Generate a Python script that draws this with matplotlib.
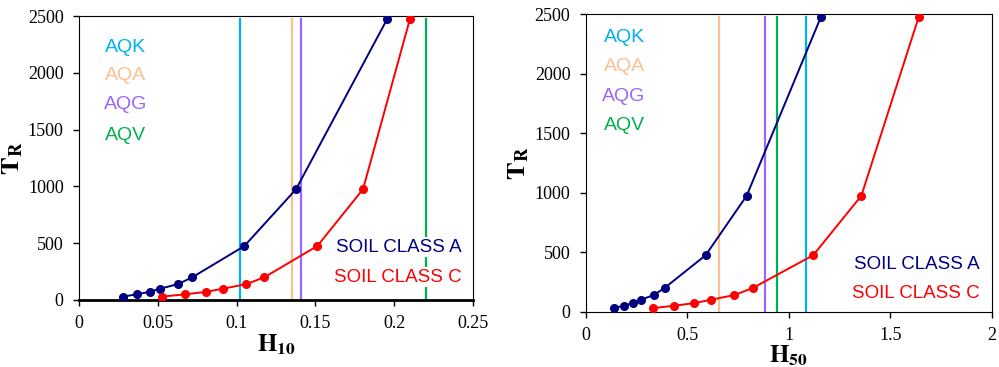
import matplotlib.pyplot as plt
import numpy as np

# return periods T_R (years)
tr = [30, 50, 72, 100, 140, 200, 475, 975, 2475]

# hazard values
h10_a = [0.028, 0.0366, 0.045, 0.0516, 0.0628, 0.0719, 0.1049, 0.1377, 0.1956]
h10_c = [0.0527, 0.0675, 0.0808, 0.0916, 0.1062, 0.1176, 0.1512, 0.1802, 0.210]
h50_a = [0.139, 0.187, 0.231, 0.271, 0.335, 0.389, 0.591, 0.793, 1.158]
h50_c = [0.332, 0.435, 0.535, 0.616, 0.732, 0.824, 1.121, 1.358, 1.640]

# reference levels (AQK, AQA, AQG, AQV)
ref_names = ['AQK', 'AQA', 'AQG', 'AQV']
ref_colors = ['#00B0F0', '#FAC090', '#9966FF', '#00B050']
ref_h10 = [0.102, 0.135, 0.141, 0.220]
ref_h50 = [1.086, 0.657, 0.883, 0.942]

navy = '#000080'
red = '#FF0000'

plt.rcParams['mathtext.fontset'] = 'stix'
serif = 'Liberation Serif'
sans = 'Liberation Sans'


def draw_panel(ax, ha, hc, refs, xlim, xticks, xlabel, name_xy, soil_xy):
    for x, c in zip(refs, ref_colors):
        ax.plot([x, x], [0, 2475], color=c, linewidth=1.6, zorder=1)
    ax.plot(ha, tr, '-o', color=navy, linewidth=1.4, markersize=5.5, zorder=3)
    ax.plot(hc, tr, '-o', color=red, linewidth=1.4, markersize=5.5, zorder=3)

    ax.set_xlim(*xlim)
    ax.set_ylim(0, 2500)
    ax.set_xticks(xticks)
    ax.set_yticks(np.arange(0, 2501, 500))
    ax.set_xticklabels([('%g' % t) for t in xticks])
    for lab in ax.get_xticklabels() + ax.get_yticklabels():
        lab.set_fontfamily(serif)
        lab.set_fontsize(13)
    ax.tick_params(direction='out', length=4, width=1, pad=7)

    ax.set_xlabel(xlabel, fontsize=18, labelpad=0)
    ax.set_ylabel(r'$\mathbf{T}_\mathbf{R}$', fontsize=19, labelpad=2)

    # reference labels
    x0, ys = name_xy
    for name, c, y in zip(ref_names, ref_colors, ys):
        ax.text(x0, y, name, color=c, fontsize=14, family=sans,
                ha='center', va='center')

    xs, ya, yc = soil_xy
    box = dict(facecolor='white', edgecolor='none', pad=1)
    ax.text(xs, ya, 'SOIL CLASS A', color=navy, fontsize=13.5, family=sans,
            ha='right', va='center', bbox=box, zorder=2)
    ax.text(xs, yc, 'SOIL CLASS C', color=red, fontsize=13.5, family=sans,
            ha='right', va='center', bbox=box, zorder=2)


fig = plt.figure(figsize=(9.99, 3.67), dpi=100)

ax1 = fig.add_axes([0.0791, 0.1826, 0.3944, 0.7738])
draw_panel(ax1, h10_a, h10_c, ref_h10, (0, 0.25),
           [0, 0.05, 0.1, 0.15, 0.2, 0.25], r'$\mathbf{H}_\mathbf{10}$',
           (0.0298, [2221, 1980, 1725, 1452]), (0.2428, 464, 200))
ax1.spines['bottom'].set_linewidth(2)

ax2 = fig.add_axes([0.5863, 0.1507, 0.4064, 0.8104])
draw_panel(ax2, h50_a, h50_c, ref_h50, (0, 2),
           [0, 0.5, 1, 1.5, 2], r'$\mathbf{H}_\mathbf{50}$',
           (0.189, [2303, 2060, 1807, 1569]), (1.942, 398, 155))

fig.savefig('out.png', dpi=100)
